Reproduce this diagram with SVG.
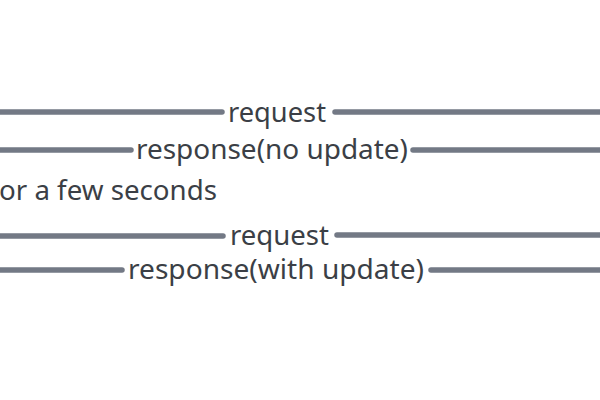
<svg xmlns="http://www.w3.org/2000/svg" width="600" height="400" viewBox="0 0 600 400">
<style>
.ln{stroke:#737985;stroke-width:5.5;stroke-linecap:round;fill:none}
.t{font-family:"Noto Sans","Liberation Sans",Arial,sans-serif;font-size:27px;fill:#3b3f46}
</style>
<rect width="600" height="400" fill="#ffffff"/>
<g id="connectors">
<line class="ln" x1="-5" y1="112" x2="222" y2="112"/>
<line class="ln" x1="335" y1="112" x2="605" y2="112"/>
<line class="ln" x1="-5" y1="150" x2="131" y2="150"/>
<line class="ln" x1="413" y1="150" x2="605" y2="150"/>
<line class="ln" x1="-5" y1="236" x2="223" y2="236"/>
<line class="ln" x1="337" y1="235" x2="605" y2="235"/>
<line class="ln" x1="-5" y1="270" x2="122" y2="270"/>
<line class="ln" x1="431" y1="270" x2="605" y2="270"/>
</g>
<g id="label-request-1"><text class="t" x="228" y="122" textLength="98" lengthAdjust="spacingAndGlyphs">request</text></g>
<g id="label-response-1"><text class="t" x="136" y="159" textLength="272" lengthAdjust="spacingAndGlyphs">response(no update)</text></g>
<g id="label-wait"><text class="t" x="-1" y="200" textLength="218" lengthAdjust="spacingAndGlyphs">or a few seconds</text></g>
<g id="label-request-2"><text class="t" x="230" y="245" textLength="99" lengthAdjust="spacingAndGlyphs">request</text></g>
<g id="label-response-2"><text class="t" x="128" y="279" textLength="296" lengthAdjust="spacingAndGlyphs">response(with update)</text></g>
</svg>
